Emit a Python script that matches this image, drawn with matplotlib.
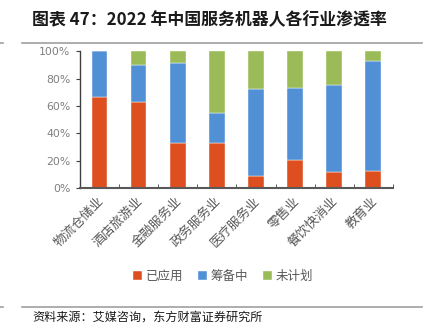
import numpy as np
import matplotlib
matplotlib.use("Agg")
import matplotlib.pyplot as plt

plt.rcParams['font.family'] = ['Noto Sans CJK SC', 'DejaVu Sans']

# data (%)
categories = ["物流仓储业", "酒店旅游业", "金融服务业", "政务服务业",
              "医疗服务业", "零售业", "餐饮快消业", "教育业"]
applied = [66.5, 63, 33, 33, 9, 21, 12, 13]
preparing = [33.5, 27, 58.5, 22, 63.5, 52, 63.5, 80]
no_plan = [0, 10, 8.5, 45, 27.5, 27, 24.5, 7]

series_names = ["已应用", "筹备中", "未计划"]
colors = ["#DD4F1F", "#5290D6", "#9BBB59"]

fig = plt.figure(figsize=(4.37, 3.34), dpi=100)
ax = fig.add_axes([0.183, 0.436, 0.716, 0.411])

x = np.arange(len(categories))
bottom = np.zeros(len(categories))
for vals, name, c in zip([applied, preparing, no_plan], series_names, colors):
    ax.bar(x, vals, 0.4, bottom=bottom, color=c, label=name,
           edgecolor="white", linewidth=0.3)
    bottom += np.array(vals)

ax.set_xlim(-0.5, len(categories) - 0.5)
ax.set_ylim(0, 100)
ax.set_yticks(np.arange(0, 101, 20))
ax.set_yticklabels([f"{v}%" for v in range(0, 101, 20)], color="#7f7f7f", fontsize=7.8,
                   family=['DejaVu Sans'])
ax.set_xticks(x + 0.05)
ax.set_xticklabels(categories, rotation=45, ha="right", va="center", fontsize=9.3,
                   color="#595959", rotation_mode="anchor")
ax.tick_params(axis="x", length=0, pad=8)
ax.tick_params(axis="y", length=3, width=0.8, color="#404040", pad=4)
ax.set_xticks(np.arange(-0.5, len(categories)), minor=True)
ax.tick_params(axis="x", which="minor", direction="in", length=3, color="#404040")

for s in ["top", "right"]:
    ax.spines[s].set_visible(False)
ax.spines["left"].set_color("#404040")
ax.spines["bottom"].set_color("#595959")
ax.spines["left"].set_linewidth(1.0)
ax.spines["bottom"].set_linewidth(1.5)

leg = fig.legend(loc="center", bbox_to_anchor=(0.51, 0.173), ncol=3, frameon=False,
                 fontsize=9, handlelength=0.7, handleheight=0.7, handletextpad=0.3,
                 columnspacing=1.2)
for t in leg.get_texts():
    t.set_color("#595959")

fig.text(0.073, 0.94, "图表 47：2022 年中国服务机器人各行业渗透率", fontsize=12.2,
         fontweight="bold", va="center", ha="left", color="#1a1a1a")
for yy in [0.872, 0.08]:
    fig.add_artist(plt.Line2D([0.05, 0.965], [yy, yy], color="#a0a0a0", lw=1.2))
    fig.add_artist(plt.Line2D([0.0, 0.007], [yy, yy], color="#a0a0a0", lw=1.2))
fig.text(0.073, 0.052, "资料来源：艾媒咨询，东方财富证券研究所", fontsize=8.7,
         va="center", ha="left", color="#1a1a1a")

fig.savefig("out.png", dpi=100)
